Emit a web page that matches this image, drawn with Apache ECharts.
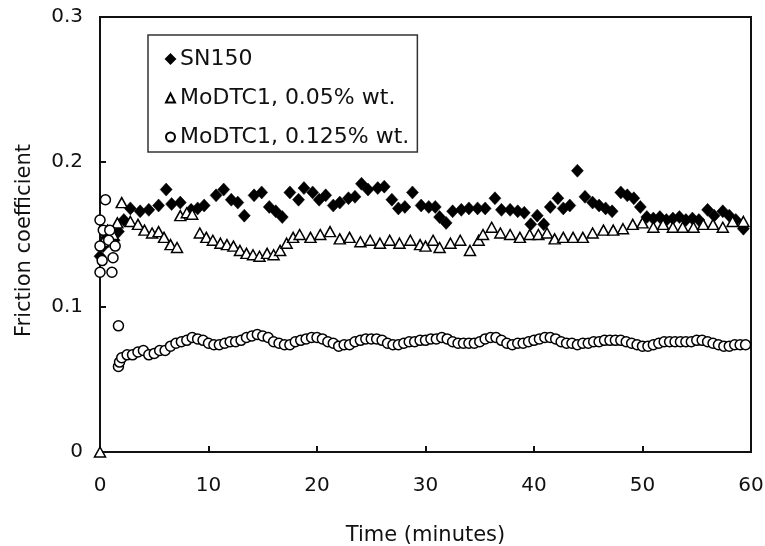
<!DOCTYPE html>
<html>
<head>
<meta charset="utf-8">
<script src="https://cdn.jsdelivr.net/npm/echarts@6/dist/echarts.min.js"></script>
<style>
  html, body { margin: 0; padding: 0; background: #fff; }
  #chart { width: 765px; height: 546px; }
</style>
</head>
<body>
<div id="chart"></div>
<script>
// values: [time (min), friction coefficient]
var sn150 = [
  [0.0,0.135],[0.3,0.142],[0.6,0.148],[0.9,0.150],[1.3,0.146],[1.7,0.152],[2.2,0.160],
  [2.8,0.168],[3.7,0.166],[4.5,0.167],[5.4,0.170],[6.1,0.181],[6.6,0.171],[7.4,0.172],
  [8.4,0.167],[9.0,0.168],[9.6,0.170],[10.7,0.177],[11.4,0.181],[12.1,0.174],[12.7,0.172],
  [13.3,0.163],[14.2,0.177],[14.9,0.179],[15.6,0.169],[16.2,0.166],[16.8,0.162],[17.5,0.179],
  [18.3,0.174],[18.8,0.182],[19.6,0.179],[20.2,0.174],[20.8,0.177],[21.5,0.170],[22.1,0.172],
  [22.9,0.175],[23.5,0.176],[24.1,0.185],[24.7,0.181],[25.6,0.182],[26.2,0.183],[26.9,0.174],
  [27.5,0.168],[28.1,0.169],[28.8,0.179],[29.6,0.170],[30.3,0.169],[30.9,0.169],[31.3,0.162],
  [31.9,0.158],[32.5,0.166],[33.3,0.167],[34.0,0.168],[34.8,0.168],[35.5,0.168],[36.4,0.175],
  [37.0,0.167],[37.8,0.167],[38.5,0.166],[39.1,0.165],[39.7,0.157],[40.3,0.163],[40.9,0.157],
  [41.5,0.169],[42.2,0.175],[42.7,0.168],[43.3,0.170],[44.0,0.194],[44.7,0.176],[45.4,0.172],
  [46.0,0.170],[46.6,0.168],[47.2,0.166],[48.0,0.179],[48.6,0.177],[49.2,0.175],[49.8,0.169],
  [50.4,0.162],[51.0,0.161],[51.6,0.162],[52.2,0.160],[52.8,0.161],[53.4,0.162],[54.0,0.160],
  [54.6,0.161],[55.2,0.160],[56.0,0.167],[56.6,0.163],[57.4,0.166],[58.0,0.163],[58.6,0.160],
  [59.3,0.154]
];
var modtc005 = [
  [0.0,0.0],[0.3,0.145],[0.7,0.153],[1.2,0.150],[1.6,0.158],[2.0,0.172],[2.8,0.159],
  [3.5,0.157],[4.1,0.153],[4.8,0.151],[5.4,0.152],[5.9,0.148],[6.5,0.143],[7.1,0.141],
  [7.4,0.163],[8.0,0.165],[8.5,0.164],[9.2,0.151],[9.8,0.148],[10.4,0.146],[11.1,0.144],
  [11.7,0.143],[12.3,0.142],[12.9,0.139],[13.5,0.137],[14.1,0.136],[14.7,0.135],[15.4,0.137],
  [16.0,0.136],[16.6,0.139],[17.2,0.144],[17.8,0.148],[18.4,0.150],[19.4,0.148],[20.3,0.150],
  [21.2,0.152],[22.1,0.147],[23.0,0.148],[24.0,0.145],[24.9,0.146],[25.8,0.144],[26.7,0.146],
  [27.6,0.144],[28.6,0.146],[29.5,0.143],[30.0,0.142],[30.7,0.146],[31.3,0.141],[32.3,0.144],
  [33.2,0.146],[34.1,0.139],[34.9,0.146],[35.3,0.150],[36.1,0.155],[36.9,0.151],[37.8,0.150],
  [38.7,0.148],[39.6,0.150],[40.4,0.150],[41.2,0.151],[41.9,0.147],[42.7,0.148],[43.6,0.148],
  [44.5,0.148],[45.4,0.151],[46.4,0.153],[47.3,0.153],[48.2,0.154],[49.1,0.157],[50.0,0.158],
  [51.0,0.155],[51.9,0.157],[52.8,0.155],[53.7,0.155],[54.7,0.155],[55.6,0.157],[56.5,0.157],
  [57.4,0.155],[58.3,0.159],[59.3,0.159]
];
var modtc0125 = [
  [0.0,0.124],[0.0,0.142],[0.0,0.160],[0.2,0.132],[0.5,0.174],[0.3,0.153],[0.8,0.146],
  [0.9,0.153],[1.1,0.124],[1.2,0.134],[1.4,0.142],[1.7,0.087],[1.7,0.059],[1.8,0.062],
  [2.0,0.065],[2.5,0.067],[3.0,0.067],[3.5,0.069],[4.0,0.070],[4.5,0.067],[5.0,0.068],
  [5.5,0.070],[6.0,0.070],[6.5,0.073],[7.0,0.075],[7.5,0.076],[8.0,0.077],[8.5,0.079],
  [9.0,0.078],[9.5,0.077],[10.0,0.075],[10.5,0.074],[11.0,0.074],[11.5,0.075],[12.0,0.076],
  [12.5,0.076],[13.0,0.077],[13.5,0.079],[14.0,0.080],[14.5,0.081],[15.0,0.080],[15.5,0.079],
  [16.0,0.076],[16.5,0.075],[17.0,0.074],[17.5,0.074],[18.0,0.076],[18.5,0.077],[19.0,0.078],
  [19.5,0.079],[20.0,0.079],[20.5,0.078],[21.0,0.076],[21.5,0.075],[22.0,0.073],[22.5,0.074],
  [23.0,0.074],[23.5,0.076],[24.0,0.077],[24.5,0.078],[25.0,0.078],[25.5,0.078],[26.0,0.077],
  [26.5,0.075],[27.0,0.074],[27.5,0.074],[28.0,0.075],[28.5,0.076],[29.0,0.076],[29.5,0.077],
  [30.0,0.077],[30.5,0.078],[31.0,0.078],[31.5,0.079],[32.0,0.078],[32.5,0.076],[33.0,0.075],
  [33.5,0.075],[34.0,0.075],[34.5,0.075],[35.0,0.076],[35.5,0.078],[36.0,0.079],[36.5,0.079],
  [37.0,0.077],[37.5,0.075],[38.0,0.074],[38.5,0.075],[39.0,0.075],[39.5,0.076],[40.0,0.077],
  [40.5,0.078],[41.0,0.079],[41.5,0.079],[42.0,0.078],[42.5,0.076],[43.0,0.075],[43.5,0.075],
  [44.0,0.074],[44.5,0.075],[45.0,0.075],[45.5,0.076],[46.0,0.076],[46.5,0.077],[47.0,0.077],
  [47.5,0.077],[48.0,0.077],[48.5,0.076],[49.0,0.075],[49.5,0.074],[50.0,0.073],[50.5,0.073],
  [51.0,0.074],[51.5,0.075],[52.0,0.076],[52.5,0.076],[53.0,0.076],[53.5,0.076],[54.0,0.076],
  [54.5,0.076],[55.0,0.077],[55.5,0.077],[56.0,0.076],[56.5,0.075],[57.0,0.074],[57.5,0.073],
  [58.0,0.073],[58.5,0.074],[59.0,0.074],[59.5,0.074]
];
var seriesNames = ["SN150", "MoDTC1, 0.05% wt.", "MoDTC1, 0.125% wt."];

var fontName = "DejaVu Sans, Verdana, sans-serif";
var chart = echarts.init(document.getElementById("chart"));

chart.setOption({
  animation: false,
  backgroundColor: "#fff",
  grid: {
    left: 100, right: 14, top: 17, bottom: 94,
    containLabel: false,
    outerBoundsMode: "none",
    show: true, borderColor: "#111", borderWidth: 2
  },
  legend: {
    orient: "vertical",
    left: 148, top: 35,
    padding: [13, 8, 4, 17],
    itemWidth: 9, itemHeight: 9,
    itemGap: 17,
    borderColor: "#333", borderWidth: 1.5,
    backgroundColor: "#fff",
    textStyle: { fontFamily: fontName, fontSize: 22, color: "#111" },
    data: seriesNames
  },
  xAxis: {
    type: "value",
    min: 0, max: 60, interval: 10,
    name: "Time (minutes)",
    nameLocation: "middle",
    nameGap: 73,
    nameTextStyle: { fontFamily: fontName, fontSize: 21, color: "#111" },
    axisLine: { lineStyle: { color: "#111", width: 2 } },
    axisTick: { inside: true, length: 6, lineStyle: { color: "#111", width: 2 } },
    axisLabel: { fontFamily: fontName, fontSize: 20, color: "#111", margin: 24 },
    splitLine: { show: false }
  },
  yAxis: {
    type: "value",
    min: 0, max: 0.3, interval: 0.1,
    name: "Friction coefficient",
    nameLocation: "middle",
    nameGap: 65,
    nameTextStyle: { fontFamily: fontName, fontSize: 21, color: "#111", padding: [0, 0, 0, -12] },
    axisLine: { show: true, lineStyle: { color: "#111", width: 2 } },
    axisTick: { show: true, inside: true, length: 6, lineStyle: { color: "#111", width: 2 } },
    axisLabel: {
      fontFamily: fontName, fontSize: 20, color: "#111", margin: 17,
      formatter: function (v) { return v === 0 ? "0" : v.toFixed(1); }
    },
    splitLine: { show: false }
  },
  series: [
    {
      name: seriesNames[0], type: "scatter", data: sn150,
      symbol: "diamond", symbolSize: [12, 13],
      itemStyle: { color: "#000", borderColor: "#000", borderWidth: 0.5, opacity: 1 }
    },
    {
      name: seriesNames[1], type: "scatter", data: modtc005,
      symbol: "triangle", symbolSize: [11, 10],
      itemStyle: { color: "#fff", borderColor: "#000", borderWidth: 1.5, opacity: 1 }
    },
    {
      name: seriesNames[2], type: "scatter", data: modtc0125,
      symbol: "circle", symbolSize: 10,
      itemStyle: { color: "#fff", borderColor: "#000", borderWidth: 1.5, opacity: 1 }
    }
  ]
});
</script>
</body>
</html>
